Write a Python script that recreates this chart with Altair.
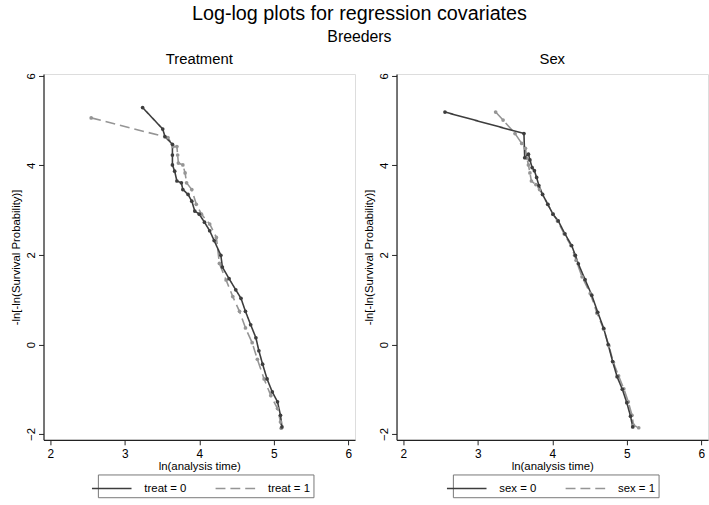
import altair as alt
import pandas as pd

# ---- data ----
treat0_x = [3.24, 3.51, 3.54, 3.64, 3.64, 3.64, 3.67, 3.70, 3.76, 3.78, 3.85, 3.90, 3.94, 4.00, 4.07, 4.14,
            4.20, 4.29, 4.31, 4.40, 4.49, 4.56, 4.62, 4.69, 4.76, 4.80, 4.85, 4.91, 4.98, 5.05, 5.09, 5.11]
treat0_y = [5.29, 4.81, 4.64, 4.47, 4.23, 4.01, 3.87, 3.65, 3.61, 3.46, 3.35, 3.20, 2.98, 2.91, 2.73, 2.54,
            2.32, 1.99, 1.73, 1.47, 1.22, 1.03, 0.74, 0.44, 0.15, -0.14, -0.44, -0.77, -1.06, -1.28, -1.58, -1.84]

treat1_x = [2.55, 3.58, 3.65, 3.70, 3.71, 3.72, 3.78, 3.81, 3.83, 3.90, 3.96, 4.03, 4.14, 4.23, 4.27, 4.36,
            4.45, 4.54, 4.62, 4.71, 4.78, 4.87, 4.96, 5.05, 5.09, 5.10]
treat1_y = [5.06, 4.62, 4.42, 4.42, 4.23, 4.05, 4.01, 3.83, 3.61, 3.46, 3.13, 2.91, 2.69, 2.39, 1.81, 1.44,
            1.07, 0.74, 0.37, 0.04, -0.33, -0.77, -1.14, -1.43, -1.73, -1.87]

sex0_x = [2.56, 3.62, 3.63, 3.68, 3.70, 3.73, 3.76, 3.79, 3.82, 3.87, 3.94, 4.01, 4.08, 4.17, 4.26, 4.31,
          4.35, 4.44, 4.53, 4.61, 4.69, 4.75, 4.81, 4.87, 4.94, 5.00, 5.05, 5.08]
sex0_y = [5.19, 4.71, 4.17, 4.25, 4.12, 3.95, 3.88, 3.73, 3.55, 3.35, 3.13, 2.91, 2.76, 2.47, 2.21, 1.99,
          1.80, 1.45, 1.10, 0.72, 0.36, 0.00, -0.38, -0.72, -1.00, -1.30, -1.60, -1.84]

sex1_x = [3.24, 3.34, 3.50, 3.59, 3.64, 3.66, 3.68, 3.70, 3.72, 3.78, 3.83, 3.87, 3.94, 4.01, 4.07, 4.16,
          4.25, 4.30, 4.32, 4.40, 4.51, 4.60, 4.69, 4.76, 4.82, 4.89, 4.96, 5.02, 5.07, 5.09, 5.16]
sex1_y = [5.19, 5.01, 4.71, 4.49, 4.38, 4.16, 4.01, 3.83, 3.65, 3.57, 3.46, 3.35, 3.13, 2.91, 2.76, 2.47,
          2.21, 1.99, 1.88, 1.51, 1.14, 0.70, 0.34, -0.03, -0.40, -0.70, -0.99, -1.28, -1.58, -1.80, -1.86]

x_ticks = [2, 3, 4, 5, 6]
y_ticks = [-2, 0, 2, 4, 6]

DARK = "#3d3d3d"
GRAY = "#959595"
FONT = "Liberation Sans"


def frame(xs, ys, label, col):
    return pd.DataFrame({"x": xs, "y": ys, "group": label, "col": col, "i": range(len(xs))})


def panel(title, lab0, lab1, d0x, d0y, d1x, d1y, legend_x):
    df = pd.concat([frame(d1x, d1y, lab1, GRAY), frame(d0x, d0y, lab0, DARK)], ignore_index=True)
    common = dict(grid=False, tickSize=5, labelFont=FONT, titleFont=FONT,
                  titleFontSize=11.5, labelColor="black", titleColor="black", titleFontWeight="normal",
                  domainColor="#222222", tickColor="#222222", domainWidth=1.2, format="d")
    xenc = alt.X("x:Q", scale=alt.Scale(domain=[1.91, 6.09], nice=False, zero=False),
                 axis=alt.Axis(values=x_ticks, title="ln(analysis time)", labelPadding=4,
                               labelFontSize=12, titlePadding=1, **common))
    yenc = alt.Y("y:Q", scale=alt.Scale(domain=[-2.13, 6.04], nice=False, zero=False),
                 axis=alt.Axis(values=y_ticks, title="-ln[-ln(Survival Probability)]",
                               labelFontSize=11.5, labelPadding=2, labelAngle=270, labelAlign="center",
                               labelBaseline="bottom", titlePadding=4, **common))
    leg = alt.Legend(title=None, orient="none", legendX=legend_x, legendY=405, direction="horizontal",
                     symbolType="M-2,0H2", symbolSize=400, symbolStrokeWidth=1.5, labelOffset=22,
                     columnPadding=26, padding=3, strokeColor="#777777", labelFontSize=11.5,
                     labelFont=FONT, labelColor="black")
    dom = [lab0, lab1]
    lines = alt.Chart(df).mark_line(strokeWidth=1.6).encode(
        x=xenc, y=yenc, order="i:Q",
        color=alt.Color("group:N", scale=alt.Scale(domain=dom, range=[DARK, GRAY]), legend=leg),
        strokeDash=alt.StrokeDash("group:N", scale=alt.Scale(domain=dom, range=[[1, 0], [10, 5]]), legend=leg),
    )
    pts = alt.Chart(df).mark_circle(size=14, opacity=1).encode(
        x="x:Q", y="y:Q", fill=alt.Fill("col:N", scale=None)
    )
    return alt.layer(lines, pts).properties(
        width=315, height=370,
        title=alt.TitleParams(title, fontSize=15, font=FONT, fontWeight="normal", color="black",
                              anchor="middle", baseline="bottom", offset=-9, frame="group"),
    )


left = panel("Treatment", "treat = 0", "treat = 1", treat0_x, treat0_y, treat1_x, treat1_y, 55)
right = panel("Sex", "sex = 0", "sex = 1", sex0_x, sex0_y, sex1_x, sex1_y, 57)

chart = alt.hconcat(left, right, spacing=7).resolve_scale(
    color="independent", strokeDash="independent"
).properties(
    title=alt.TitleParams("Log-log plots for regression covariates", subtitle="Breeders",
                          fontSize=20, subtitleFontSize=16, font=FONT, subtitleFont=FONT,
                          fontWeight="normal", color="black", subtitleColor="black",
                          anchor="middle", subtitlePadding=6, offset=6),
    padding={"left": 10, "top": 1, "right": 0, "bottom": 0},
).configure_view(stroke="#8a8a8a", strokeWidth=1).configure(background="white")

chart.save("out.html", embed_options={"renderer": "svg", "actions": False})
